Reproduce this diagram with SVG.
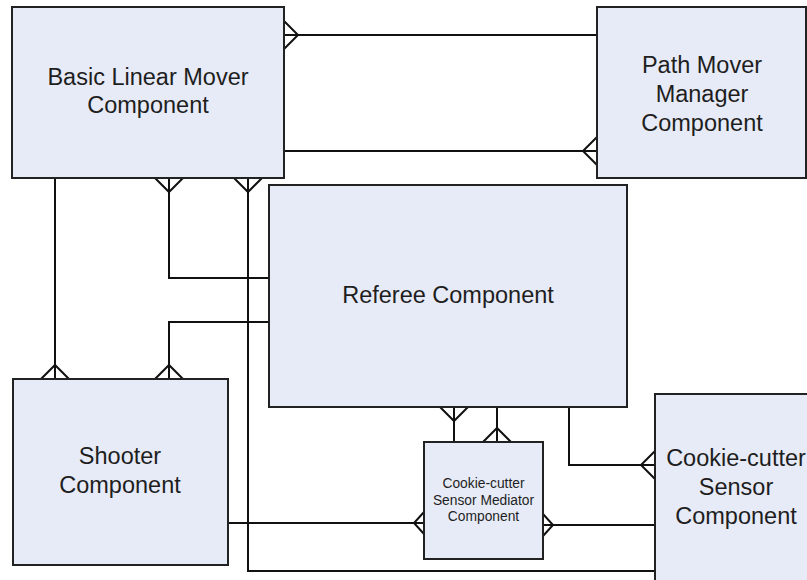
<svg xmlns="http://www.w3.org/2000/svg" xmlns:xlink="http://www.w3.org/1999/xlink" width="807" height="580" viewBox="0 0 807 580">
<style>
.box{fill:#E7EBF7;stroke:#222;stroke-width:2}
.lbl{font-family:"Liberation Sans",Arial,sans-serif;font-size:23.5px;fill:#1e1e1e;text-anchor:middle}
.sm{font-size:13.8px}
.con{fill:none;stroke:#111;stroke-width:2}
</style>
<defs>
<path id="cf" d="M-14,0 L0,14 L14,0" fill="none" stroke="#111" stroke-width="2"/>
<path id="cfs" d="M-11,0 L0,10 L11,0" fill="none" stroke="#111" stroke-width="2"/>
</defs>
<rect width="807" height="580" fill="#fff"/>
<g id="connectors">
<path class="con" d="M284,35 H597"/><use xlink:href="#cf" transform="translate(284,35) rotate(-90)"/>
<path class="con" d="M284,151 H597"/><use xlink:href="#cf" transform="translate(597,151) rotate(90)"/>
<path class="con" d="M55,178 V379"/><use xlink:href="#cf" transform="translate(55,379) rotate(180)"/>
<path class="con" d="M169,178 V278 H269"/><use xlink:href="#cf" transform="translate(169,178)"/>
<path class="con" d="M269,322 H169 V379"/><use xlink:href="#cf" transform="translate(169,379) rotate(180)"/>
<path class="con" d="M248,178 V571 H655"/><use xlink:href="#cf" transform="translate(248,178)"/>
<path class="con" d="M228,523 H424"/><use xlink:href="#cfs" transform="translate(424,523) rotate(90)"/>
<path class="con" d="M454,407 V442"/><use xlink:href="#cf" transform="translate(454,407)"/>
<path class="con" d="M497,407 V442"/><use xlink:href="#cf" transform="translate(497,442) rotate(180)"/>
<path class="con" d="M569,407 V465 H655"/><use xlink:href="#cf" transform="translate(655,465) rotate(90)"/>
<path class="con" d="M543,525 H655"/><use xlink:href="#cfs" transform="translate(543,525) rotate(-90)"/>
</g>
<g id="basic-linear-mover">
<rect class="box" x="12" y="7" width="272" height="171"/>
<text class="lbl" x="148" y="85">Basic Linear Mover</text>
<text class="lbl" x="148" y="113">Component</text>
</g>
<g id="path-mover-manager">
<rect class="box" x="597" y="7" width="209" height="171"/>
<text class="lbl" x="702" y="73">Path Mover</text>
<text class="lbl" x="702" y="102">Manager</text>
<text class="lbl" x="702" y="131">Component</text>
</g>
<g id="referee">
<rect class="box" x="269" y="185" width="358" height="222"/>
<text class="lbl" x="448" y="303">Referee Component</text>
</g>
<g id="shooter">
<rect class="box" x="13" y="379" width="215" height="186"/>
<text class="lbl" x="120" y="464">Shooter</text>
<text class="lbl" x="120" y="493">Component</text>
</g>
<g id="sensor-mediator">
<rect class="box" x="424" y="442" width="119" height="117"/>
<text class="lbl sm" x="483.5" y="488">Cookie-cutter</text>
<text class="lbl sm" x="483.5" y="505">Sensor Mediator</text>
<text class="lbl sm" x="483.5" y="521">Component</text>
</g>
<g id="sensor">
<rect class="box" x="655" y="394" width="170" height="200"/>
<text class="lbl" x="736" y="466">Cookie-cutter</text>
<text class="lbl" x="736" y="495">Sensor</text>
<text class="lbl" x="736" y="524">Component</text>
</g>
</svg>
